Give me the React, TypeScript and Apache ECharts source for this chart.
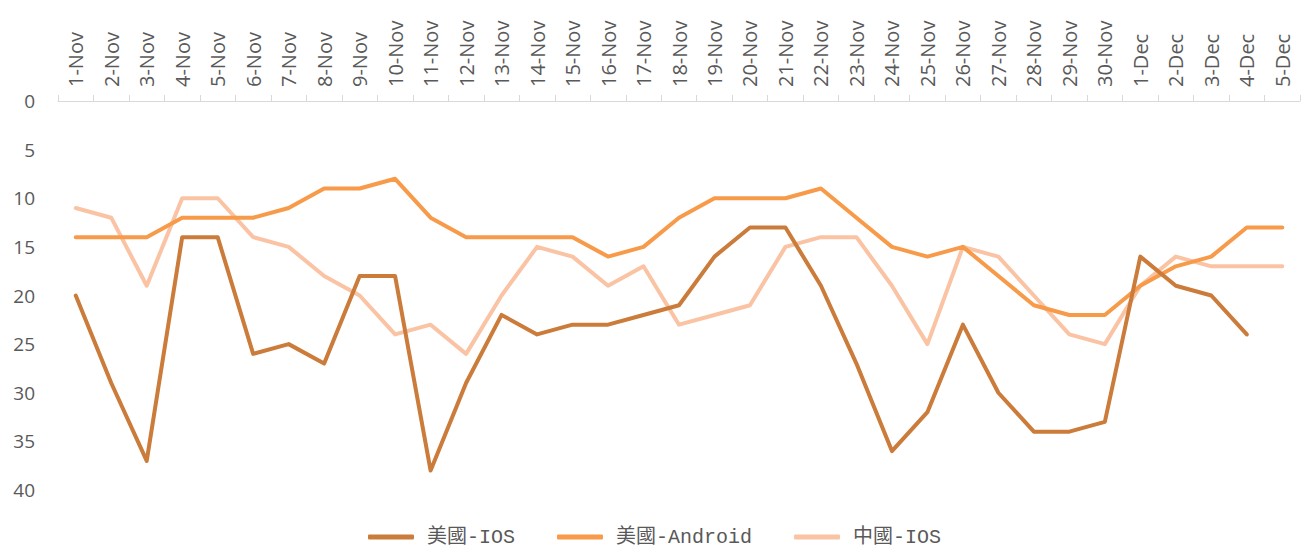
import React, { useEffect, useRef } from "react";
import * as echarts from "echarts";

const categories = [
  "1-Nov", "2-Nov", "3-Nov", "4-Nov", "5-Nov", "6-Nov", "7-Nov", "8-Nov", "9-Nov", "10-Nov",
  "11-Nov", "12-Nov", "13-Nov", "14-Nov", "15-Nov", "16-Nov", "17-Nov", "18-Nov", "19-Nov", "20-Nov",
  "21-Nov", "22-Nov", "23-Nov", "24-Nov", "25-Nov", "26-Nov", "27-Nov", "28-Nov", "29-Nov", "30-Nov",
  "1-Dec", "2-Dec", "3-Dec", "4-Dec", "5-Dec",
];

const usIos = [
  20, 29, 37, 14, 14, 26, 25, 27, 18, 18,
  38, 29, 22, 24, 23, 23, 22, 21, 16, 13,
  13, 19, 27, 36, 32, 23, 30, 34, 34, 33,
  16, 19, 20, 24, null,
];

const usAndroid = [
  14, 14, 14, 12, 12, 12, 11, 9, 9, 8,
  12, 14, 14, 14, 14, 16, 15, 12, 10, 10,
  10, 9, 12, 15, 16, 15, 18, 21, 22, 22,
  19, 17, 16, 13, 13,
];

const cnIos = [
  11, 12, 19, 10, 10, 14, 15, 18, 20, 24,
  23, 26, 20, 15, 16, 19, 17, 23, 22, 21,
  15, 14, 14, 19, 25, 15, 16, 20, 24, 25,
  19, 16, 17, 17, 17,
];

const seriesNames = ["美國-IOS", "美國-Android", "中國-IOS"];
const colors = ["#CB7B3A", "#F79A4A", "#FAC3A4"];

export default function App() {
  const ref = useRef<HTMLDivElement>(null);
  useEffect(() => {
    document.body.style.margin = "0";
    const chart = echarts.init(ref.current!, undefined, { renderer: "svg" });
    const datasets = [usIos, usAndroid, cnIos];
    chart.setOption({
      animation: false,
      backgroundColor: "#ffffff",
      grid: { left: 58, right: 9, top: 101, bottom: 62 },
      legend: {
        bottom: 0,
        left: "center",
        itemWidth: 46,
        itemHeight: 5,
        itemGap: 42,
        icon: "roundRect",
        textStyle: {
          fontFamily: "'Liberation Mono', 'Noto Sans CJK TC', monospace",
          fontSize: 20,
          color: "#595959",
          padding: [0, 0, 0, 8],
        },
        data: seriesNames,
      },
      xAxis: {
        type: "category",
        position: "top",
        data: categories,
        boundaryGap: true,
        axisLine: { show: true, lineStyle: { color: "#D9D9D9", width: 1 } },
        axisTick: { show: true, alignWithLabel: false, length: 6, lineStyle: { color: "#D9D9D9" } },
        axisLabel: {
          rotate: 90,
          interval: 0,
          margin: 14,
          color: "#595959",
          fontSize: 20,
          fontFamily: "'Open Sans', sans-serif",
        },
        splitLine: { show: false },
      },
      yAxis: {
        type: "value",
        inverse: true,
        min: 0,
        max: 40,
        interval: 5,
        axisLine: { show: false },
        axisTick: { show: false },
        splitLine: { show: false },
        axisLabel: {
          margin: 23,
          color: "#595959",
          fontSize: 19,
          fontFamily: "'Open Sans', sans-serif",
        },
      },
      series: seriesNames.map((name, i) => ({
        name,
        type: "line",
        data: datasets[i],
        showSymbol: false,
        symbol: "none",
        connectNulls: false,
        lineStyle: { color: colors[i], width: 4, cap: "round", join: "round" },
        itemStyle: { color: colors[i] },
        z: 3 - i,
      })),
    });
    return () => chart.dispose();
  }, []);
  return <div ref={ref} style={{ width: 1309, height: 552 }} />;
}
